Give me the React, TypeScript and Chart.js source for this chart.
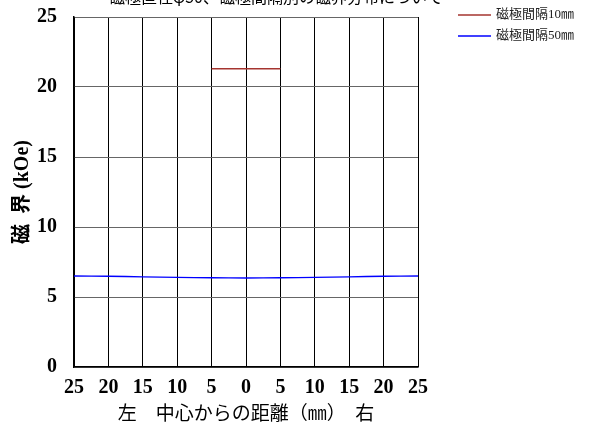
import React, { useEffect, useRef } from "react";
import { Chart, registerables } from "chart.js";

Chart.register(...registerables);

const distances = [-25, -20, -15, -10, -5, 0, 5, 10, 15, 20, 25];
const field50mm = [6.5, 6.48, 6.44, 6.4, 6.37, 6.36, 6.37, 6.4, 6.44, 6.48, 6.5];
const distances10mm = [-5, 0, 5];
const field10mm = [21.3, 21.3, 21.3];
const seriesNames = ["磁極間隔10㎜", "磁極間隔50㎜"];
const seriesColors = ["#a5342f", "#0000ff"];
const chartTitle = "磁極直径φ50、磁極間隔別の磁界分布について";
const xTitle = "左　中心からの距離（㎜）　右";
const yTitle = "磁  界 (kOe)";

const overlayPlugin = {
  id: "overlay",
  afterDraw(chart: any) {
    const ctx = chart.ctx;
    ctx.save();
    // cut-off title
    ctx.fillStyle = "#000";
    ctx.font = "16px 'Noto Sans CJK JP'";
    ctx.textAlign = "center";
    ctx.textBaseline = "alphabetic";
    ctx.fillText(chartTitle, 276, 3);
    // legend
    ctx.textAlign = "left";
    ctx.textBaseline = "middle";
    ctx.font = "13px 'Liberation Serif', 'Noto Sans CJK JP'";
    seriesNames.forEach((name, i) => {
      const y = 15 + i * 21;
      ctx.strokeStyle = seriesColors[i];
      ctx.lineWidth = 1.4;
      ctx.beginPath();
      ctx.moveTo(458, y);
      ctx.lineTo(491, y);
      ctx.stroke();
      ctx.fillStyle = "#222";
      ctx.fillText(name, 496, y);
    });
    ctx.restore();
  },
};

export default function App() {
  const ref = useRef<HTMLCanvasElement>(null);
  useEffect(() => {
    const tickFont = { family: "'Liberation Serif', serif", size: 20, weight: "bold" as const };
    const chart = new Chart(ref.current!, {
      type: "scatter",
      data: {
        datasets: [
          {
            label: seriesNames[0],
            data: distances10mm.map((x, i) => ({ x, y: field10mm[i] })),
            showLine: true,
            borderColor: seriesColors[0],
            borderWidth: 1.4,
            pointRadius: 0,
          },
          {
            label: seriesNames[1],
            data: distances.map((x, i) => ({ x, y: field50mm[i] })),
            showLine: true,
            borderColor: seriesColors[1],
            borderWidth: 1.4,
            pointRadius: 0,
            tension: 0.3,
          },
        ],
      },
      options: {
        animation: false,
        responsive: false,
        devicePixelRatio: 1,
        layout: { padding: { top: 17, right: 187, left: 0, bottom: 0 } },
        plugins: { legend: { display: false }, tooltip: { enabled: false } },
        scales: {
          x: {
            type: "linear",
            min: -25,
            max: 25,
            afterFit: (s: any) => {
              s.height = 64;
              s.paddingLeft = 0;
              s.paddingRight = 0;
            },
            ticks: {
              stepSize: 5,
              padding: 9,
              color: "#000",
              font: tickFont,
              maxRotation: 0,
              callback: (v: any) => String(Math.abs(Number(v))),
            },
            grid: { color: "#000", lineWidth: 1, drawTicks: false },
            border: { color: "#000", width: 1.5 },
            title: {
              display: true,
              text: xTitle,
              color: "#000",
              font: { family: "'Liberation Serif', 'Noto Sans CJK JP'", size: 19 },
              padding: { top: 0, bottom: 5 },
            },
          },
          y: {
            min: 0,
            max: 25,
            afterFit: (s: any) => {
              s.width = 74;
              s.paddingTop = 0;
              s.paddingBottom = 0;
            },
            ticks: {
              stepSize: 5,
              padding: 17,
              color: "#000",
              font: tickFont,
            },
            grid: { color: "#666", lineWidth: 1, drawTicks: false },
            border: { color: "#000", width: 1.5 },
            title: {
              display: true,
              text: yTitle,
              color: "#000",
              font: { family: "'Liberation Serif', 'Noto Sans CJK JP'", size: 20, weight: "bold" },
              padding: { top: 11, bottom: 0 },
            },
          },
        },
      },
      plugins: [overlayPlugin],
    });
    return () => chart.destroy();
  }, []);
  return (
    <div style={{ position: "fixed", left: 0, top: 0, width: 605, height: 431, background: "#fff" }}>
      <canvas ref={ref} width={605} height={431} style={{ width: 605, height: 431 }} />
    </div>
  );
}
